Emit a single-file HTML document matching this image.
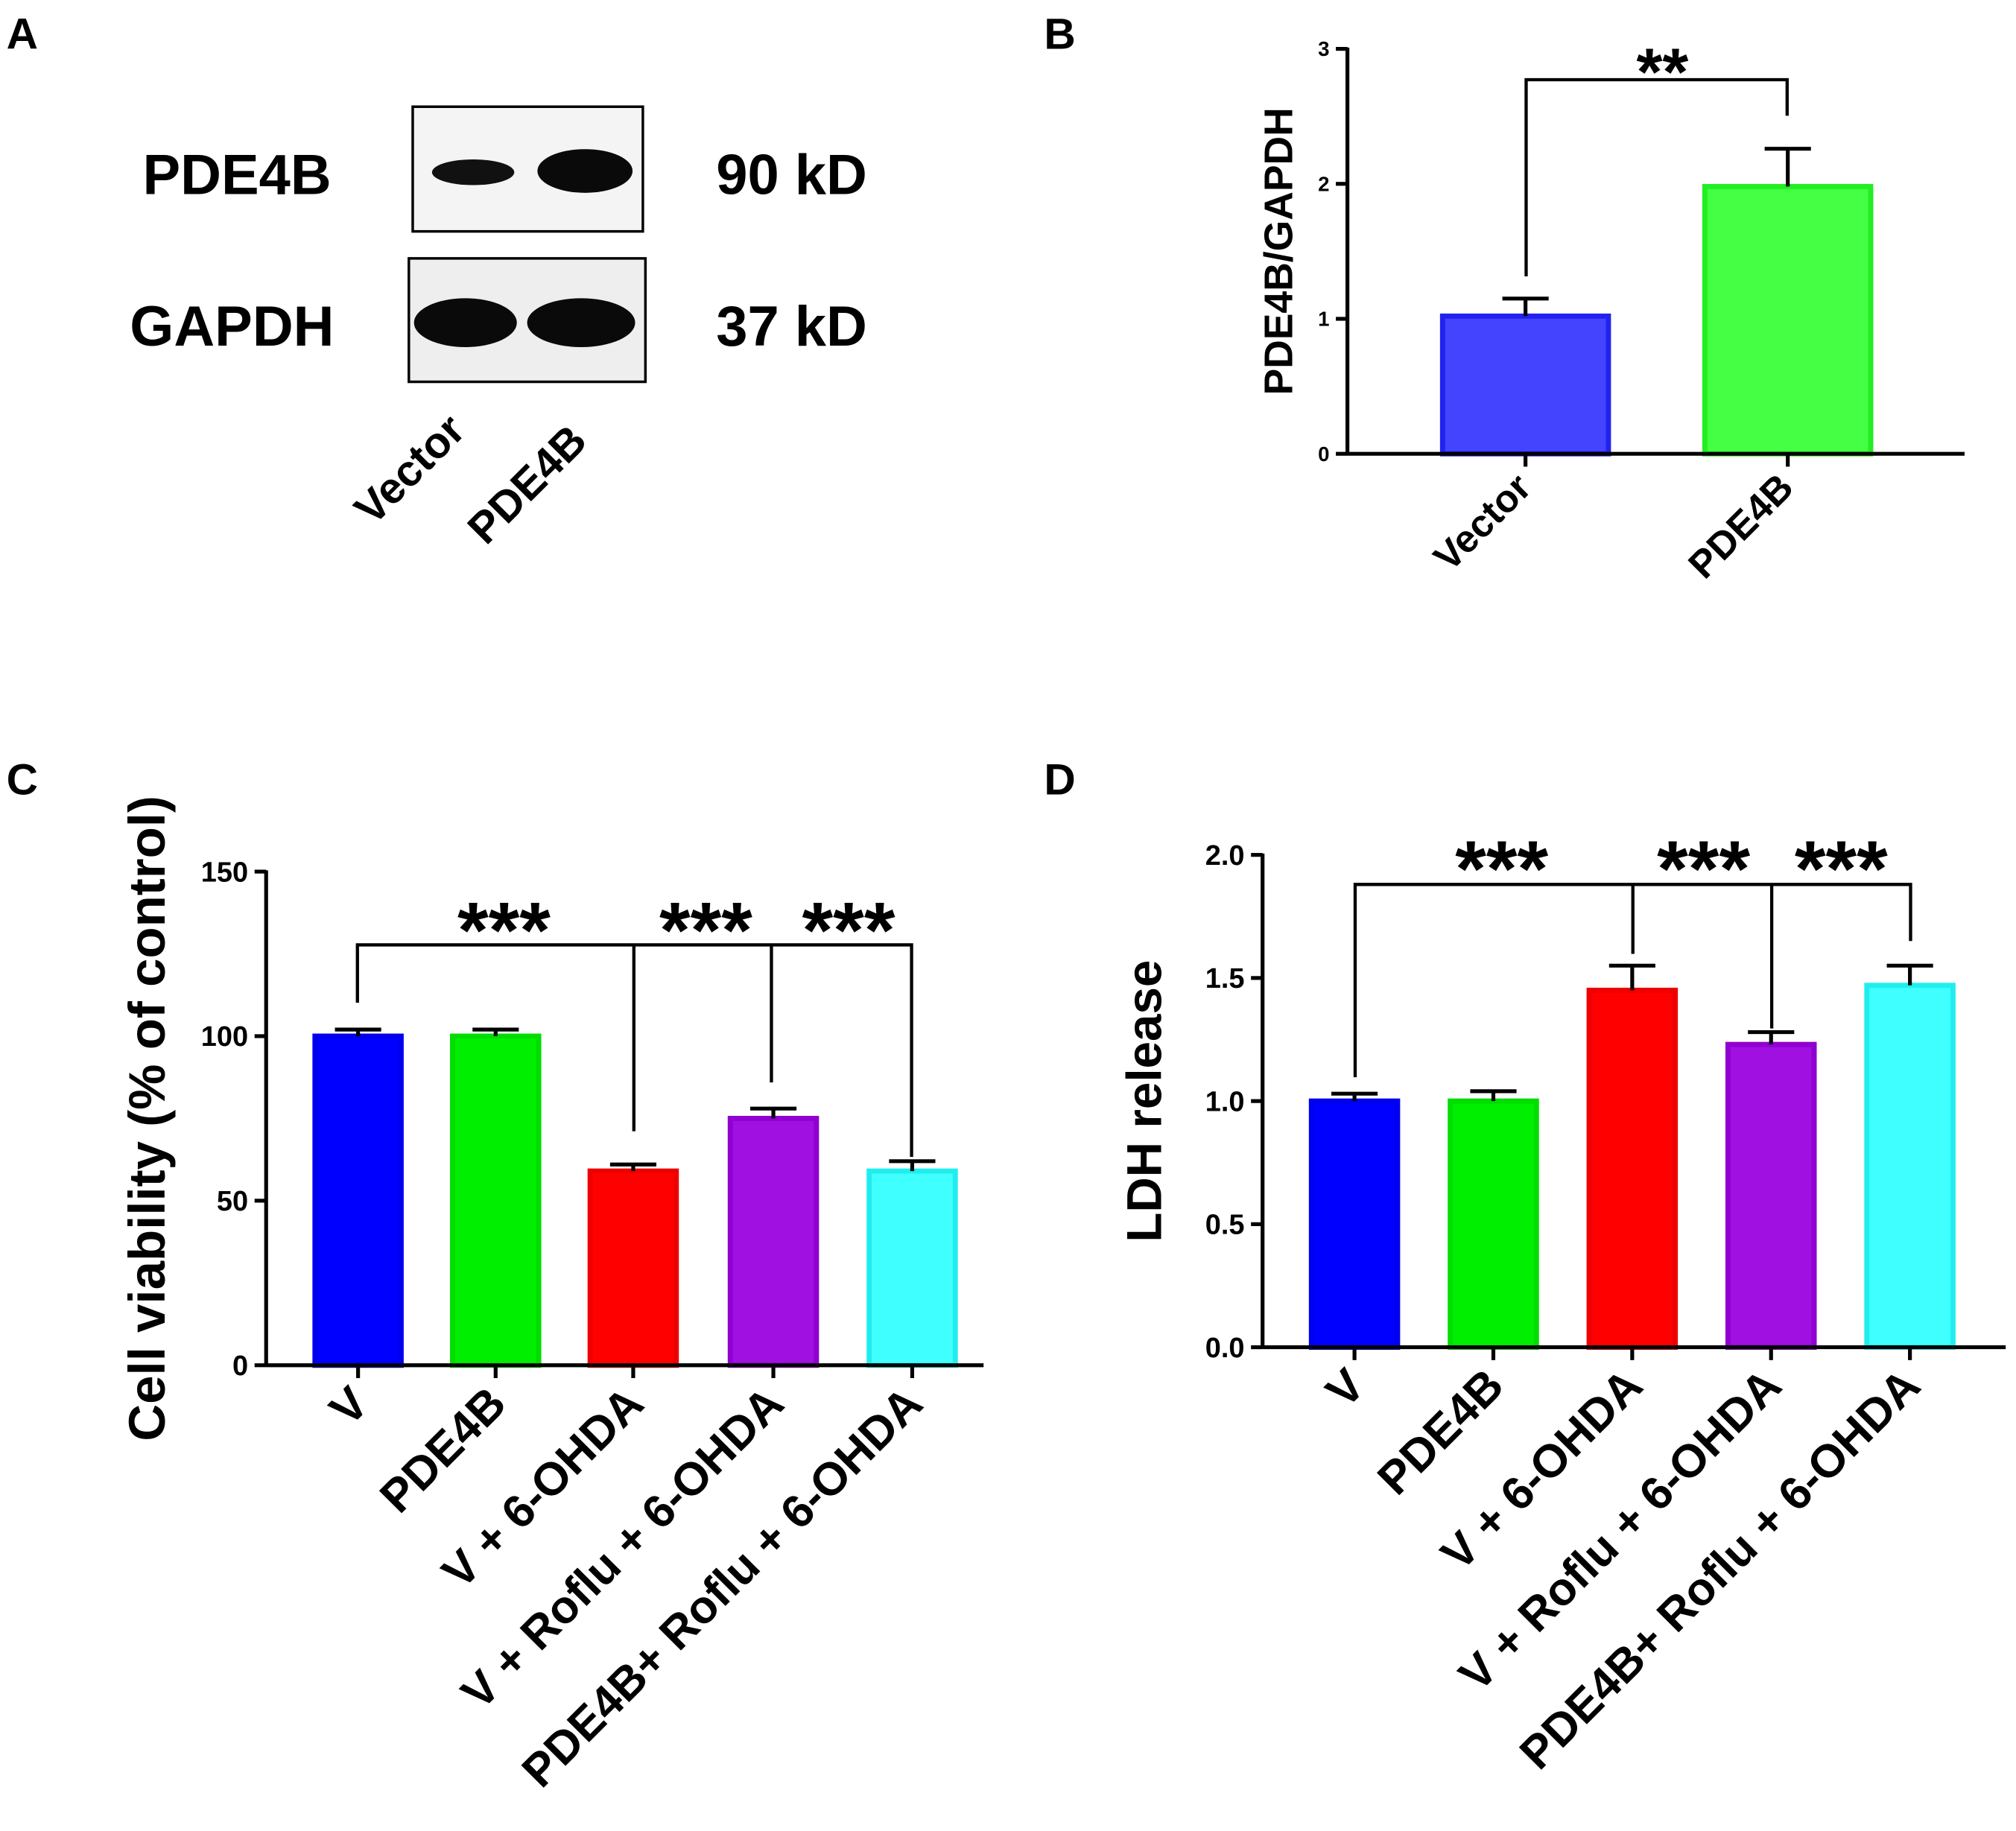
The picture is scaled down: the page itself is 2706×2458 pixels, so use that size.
<!DOCTYPE html>
<html><head><meta charset="utf-8"><style>
html,body{margin:0;padding:0;background:#fff}
svg{display:block;font-family:"Liberation Sans",Arial,sans-serif}
</style></head><body>
<svg id="fig" width="2706" height="2458" viewBox="0 0 1568 1424.3" preserveAspectRatio="none">
<g>
<text x="5" y="38" font-size="34" font-weight="bold">A</text>
<text x="111" y="151" font-size="44" font-weight="bold">PDE4B</text>
<text x="101" y="269" font-size="44" font-weight="bold">GAPDH</text>
<text x="557" y="151" font-size="44" font-weight="bold">90 kD</text>
<text x="557" y="269" font-size="44" font-weight="bold">37 kD</text>
<rect x="321" y="83" width="179" height="97" fill="#f4f4f4" stroke="#000" stroke-width="2"/>
<ellipse cx="368" cy="134" rx="32" ry="10" fill="#111"/>
<ellipse cx="455" cy="133" rx="37" ry="17" fill="#0a0a0a"/>
<rect x="318" y="201" width="184" height="96" fill="#eee" stroke="#000" stroke-width="2"/>
<ellipse cx="362" cy="251" rx="40" ry="19" fill="#0a0a0a"/>
<ellipse cx="452" cy="251" rx="42" ry="19" fill="#0a0a0a"/>
<text transform="translate(290,410) rotate(-45)" font-size="34" font-weight="bold">Vector</text>
<text transform="translate(378,425) rotate(-45)" font-size="34" font-weight="bold">PDE4B</text>
</g>
<text x="812" y="38" font-size="34" font-weight="bold">B</text>
<text x="5" y="618" font-size="34" font-weight="bold">C</text>
<text x="812" y="618" font-size="34" font-weight="bold">D</text>
<g id="charts"></g>
</svg>
<script>
// Panel B data
const bCats=["Vector","PDE4B"];
const bVals=[1.02,1.98];
const bErr=[0.13,0.28];
const bTicks=[0,1,2,3];
// Panel C data
const cCats=["V","PDE4B","V + 6-OHDA","V + Roflu + 6-OHDA","PDE4B+ Roflu + 6-OHDA"];
const cVals=[100,100,59,75,59];
const cErr=[2,2,2,3,3];
const cTicks=[0,50,100,150];
// Panel D data
const dVals=[1.0,1.0,1.45,1.23,1.47];
const dErr=[0.03,0.04,0.1,0.05,0.08];
const dTicks=[0.0,0.5,1.0,1.5,2.0];

const NS="http://www.w3.org/2000/svg";
const root=document.getElementById('charts');
function el(tag,attrs,parent){const e=document.createElementNS(NS,tag);for(const k in attrs)e.setAttribute(k,attrs[k]);(parent||root).appendChild(e);return e;}

function chart(o){
  const g=el('g',{});
  
  
  const y=v=>o.y0-(v-o.tmin)/(o.tmax-o.tmin)*(o.y0-o.y1);
  o.vals.forEach((v,i)=>{
    const x=o.bx[i];
    const r=el('rect',{x:x+2,y:y(v),width:o.bw-4,height:o.y0-y(v),fill:o.fill[i],stroke:o.stroke[i],'stroke-width':4},g);
    
    
    const cx=x+o.bw/2, top=y(v+o.err[i]);
    const eb=el('path',{d:`M${cx},${y(v)}V${top}M${cx-18},${top}H${cx+18}`,stroke:'#000','stroke-width':3,fill:'none'},g);
    
    
    el('line',{x1:cx,x2:cx,y1:o.y0,y2:o.y0+10,stroke:'#000','stroke-width':3},g);
    const t=el('text',{transform:`translate(${cx+o.lox},${o.y0+o.loy}) rotate(-45)`,'text-anchor':'end','font-size':o.lfs,'font-weight':'bold'},g);
    t.textContent=o.cats[i];
    
    
  });
  el('line',{x1:o.ax,x2:o.ax,y1:o.y1-1,y2:o.y0+1,stroke:'#000','stroke-width':3},g);
  el('line',{x1:o.ax,x2:o.xend,y1:o.y0,y2:o.y0,stroke:'#000','stroke-width':3},g);
  o.ticks.forEach(tv=>{
    el('line',{x1:o.ax-9,x2:o.ax,y1:y(tv),y2:y(tv),stroke:'#000','stroke-width':3},g);
    const t=el('text',{x:o.ax-14,y:y(tv)+o.tfs*0.35,'text-anchor':'end','font-size':o.tfs,'font-weight':'bold'},g);
    t.textContent=o.fmt(tv);
    
    
  });
  const yt=el('text',{transform:`translate(${o.ytx},${(o.y0+o.y1)/2}) rotate(-90)`,'text-anchor':'middle','font-size':o.yfs,'font-weight':'bold'},g);
  yt.textContent=o.ytitle;
  
  
  const br=el('path',{d:o.bracket,stroke:'#000','stroke-width':2.5,fill:'none'},g);
  
  
  o.stars.forEach(s=>{
    const t=el('text',{x:s[0],y:s[1],'text-anchor':'middle','font-size':o.sfs,'font-weight':'bold'},g);
    t.textContent=s[2];
    
    
  });
}
chart({name:'chart-b',cats:bCats,vals:bVals,err:bErr,ticks:bTicks,tmin:0,tmax:3,y0:353,y1:38,ax:1048,xend:1528,
  bx:[1120,1324],bw:133,fill:['#4444ff','#44ff44'],stroke:['#2222ee','#22ee22'],lfs:30,lox:6,loy:28,tfs:16,yfs:31,ytx:1005,
  ytitle:'PDE4B/GAPDH',fmt:v=>String(v),sfs:52,
  bracket:'M1187,215V62H1390V90',stars:[[1293,74,'**']]});
chart({name:'chart-c',cats:cCats,vals:cVals,err:cErr,ticks:cTicks,tmin:0,tmax:150,y0:1062,y1:678,ax:207,xend:765,
  bx:[243,350,457,566,674],bw:71,fill:['#0000ff','#00ee00','#ff0000','#a010e0','#40ffff'],stroke:['#0000ee','#00dd00','#ee0000','#9000d0','#20eeee'],lfs:36,lox:10,loy:32,tfs:22,yfs:40,ytx:128,
  ytitle:'Cell viability (% of control)',fmt:v=>String(v),sfs:62,
  bracket:'M278,780V735H709V900M493,735V880M600,735V842',stars:[[392,745,'***'],[549,745,'***'],[660,745,'***']]});
chart({name:'chart-d',cats:cCats,vals:dVals,err:dErr,ticks:dTicks,tmin:0,tmax:2,y0:1048,y1:665,ax:982,xend:1560,
  bx:[1018,1126,1234,1342,1450],bw:71,fill:['#0000ff','#00ee00','#ff0000','#a010e0','#40ffff'],stroke:['#0000ee','#00dd00','#ee0000','#9000d0','#20eeee'],lfs:36,lox:10,loy:32,tfs:22,yfs:38,ytx:903,
  ytitle:'LDH release',fmt:v=>v.toFixed(1),sfs:62,
  bracket:'M1054,838V688H1486V732M1270,688V742M1378,688V800',stars:[[1168,697,'***'],[1325,697,'***'],[1432,697,'***']]});
</script>
</body></html>
